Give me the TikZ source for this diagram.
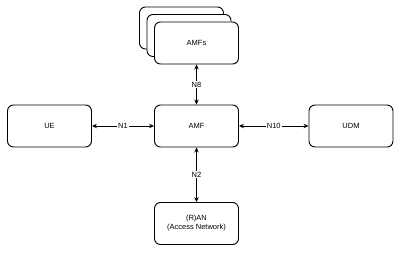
\documentclass[tikz,border=0pt]{standalone}
\usepackage{fontspec}
\setmainfont{Liberation Sans}
\usetikzlibrary{arrows.meta}

\tikzset{
    nf/.style={draw, rounded corners=6pt, line width=0.9pt, fill=white,
        minimum width=84pt, minimum height=42pt, align=center,
        font=\fontsize{7.5}{9}\selectfont},
    iface/.style={{Stealth[length=5pt,width=4.5pt]}-{Stealth[length=5pt,width=4.5pt]}, line width=0.9pt},
    lbl/.style={fill=white, inner sep=1pt, font=\fontsize{7.5}{9}\selectfont}
}

\begin{document}
\begin{tikzpicture}[x=1pt, y=-1pt]
    \useasboundingbox (0,0) rectangle (400,254);

    % AMF set, stacked
    \node[nf] (amfs3) at (181.5, 28) {};
    \node[nf] (amfs2) at (189, 35.5) {};
    \node[nf] (amfs) at (196.5, 43) {AMFs};

    \node[nf] (ue) at (49.5, 126) {UE};
    \node[nf] (amf) at (196.5, 126) {AMF};
    \node[nf] (udm) at (351, 126) {UDM};
    \node[nf] (ran) at (196.5, 223.5) {(R)AN\\(Access Network)};

    \draw[iface] (ue) -- (amf) node[lbl, midway] {N1};
    \draw[iface] (amf) -- (udm) node[lbl, midway] {N10};
    \draw[iface] (amfs) -- (amf) node[lbl, midway] {N8};
    \draw[iface] (amf) -- (ran) node[lbl, midway] {N2};
\end{tikzpicture}
\end{document}
